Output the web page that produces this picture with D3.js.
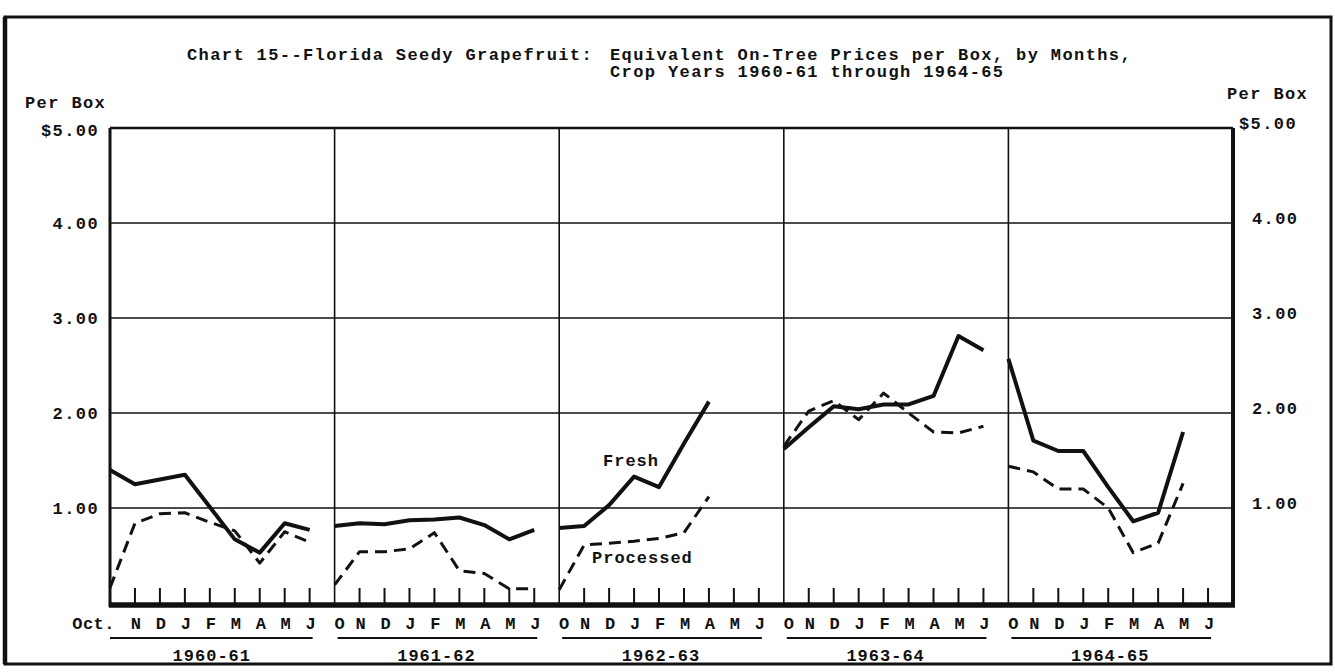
<!DOCTYPE html>
<html>
<head>
<meta charset="utf-8">
<script src="https://cdn.jsdelivr.net/npm/d3@7"></script>
<style>
  html, body { margin: 0; padding: 0; background: #fff; }
  svg { display: block; }
  text { font-family: "Liberation Mono", "DejaVu Sans Mono", monospace; font-weight: bold; fill: #111; }
</style>
</head>
<body>
<svg id="chart" width="1335" height="672"></svg>
<script>
// ---- Data ----
const cropYears = ["1960-61", "1961-62", "1962-63", "1963-64", "1964-65"];
const monthLabels = ["O", "N", "D", "J", "F", "M", "A", "M", "J"];
const yTicks = [1, 2, 3, 4, 5];
const yTickLabelsLeft = ["1.00", "2.00", "3.00", "4.00", "$5.00"];
const yTickLabelsRight = ["1.00", "2.00", "3.00", "4.00", "$5.00"];

// Fresh, $ per box, Oct..June (null = not reported)
const fresh1960 = [1.40, 1.25, 1.30, 1.35, 1.01, 0.67, 0.53, 0.84, 0.77];
const fresh1961 = [0.81, 0.84, 0.83, 0.87, 0.88, 0.90, 0.82, 0.67, 0.77];
const fresh1962 = [0.79, 0.81, 1.03, 1.33, 1.22, 1.68, 2.12, null, null];
const fresh1963 = [1.62, 1.85, 2.07, 2.04, 2.09, 2.09, 2.18, 2.81, 2.66];
const fresh1964 = [2.57, 1.71, 1.60, 1.60, 1.22, 0.86, 0.95, 1.80, null];

// Processed, $ per box, Oct..June
const processed1960 = [0.16, 0.84, 0.94, 0.95, 0.85, 0.76, 0.42, 0.75, 0.64];
const processed1961 = [0.19, 0.54, 0.54, 0.57, 0.74, 0.34, 0.31, 0.15, 0.15];
const processed1962 = [0.14, 0.61, 0.63, 0.65, 0.68, 0.74, 1.12, null, null];
const processed1963 = [1.65, 2.02, 2.13, 1.93, 2.21, 2.00, 1.80, 1.79, 1.86];
const processed1964 = [1.44, 1.38, 1.20, 1.20, 1.00, 0.53, 0.63, 1.26, null];

const freshSeries = [fresh1960, fresh1961, fresh1962, fresh1963, fresh1964];
const processedSeries = [processed1960, processed1961, processed1962, processed1963, processed1964];

// ---- Layout ----
const svg = d3.select("#chart");
const nMonths = monthLabels.length;
const x = d3.scaleLinear().domain([0, cropYears.length * nMonths]).range([110, 1233]);
const y = d3.scaleLinear().domain([0, 5]).range([603, 128]);
const FS = 17, LS = 1.4;

// outer frame
svg.append("rect").attr("x", 5).attr("y", 17).attr("width", 1326).attr("height", 647)
  .attr("fill", "none").attr("stroke", "#111").attr("stroke-width", 3);
svg.append("line").attr("x1", 5).attr("x2", 5).attr("y1", 17).attr("y2", 664)
  .attr("stroke", "#111").attr("stroke-width", 4.5);

// title
const tstyle = s => s.attr("font-size", FS).attr("letter-spacing", LS);
tstyle(svg.append("text").attr("x", 187).attr("y", 60).text("Chart 15--Florida Seedy Grapefruit:"));
tstyle(svg.append("text").attr("x", 610).attr("y", 60).text("Equivalent On-Tree Prices per Box, by Months,"));
tstyle(svg.append("text").attr("x", 610).attr("y", 77).text("Crop Years 1960-61 through 1964-65"));

// axis titles
tstyle(svg.append("text").attr("x", 25).attr("y", 108).text("Per Box"));
tstyle(svg.append("text").attr("x", 1227).attr("y", 99).text("Per Box"));

// horizontal gridlines
svg.append("g").selectAll("line").data(yTicks).join("line")
  .attr("x1", x(0)).attr("x2", x(cropYears.length * nMonths))
  .attr("y1", d => y(d)).attr("y2", d => y(d))
  .attr("stroke", "#111").attr("stroke-width", d => d === 5 ? 2.5 : 1.6);

// left tick labels
svg.append("g").selectAll("text").data(yTicks).join("text")
  .attr("x", 99).attr("y", d => y(d) + 6 + (d === 5 ? 2 : 0))
  .attr("text-anchor", "end").attr("font-size", FS).attr("letter-spacing", LS)
  .text((d, i) => yTickLabelsLeft[i]);

// right tick labels
svg.append("g").selectAll("text").data(yTicks).join("text")
  .attr("x", d => d === 5 ? 1239 : 1252).attr("y", d => y(d) + 1)
  .attr("font-size", FS).attr("letter-spacing", LS)
  .text((d, i) => yTickLabelsRight[i]);

// vertical panel dividers
const dividers = d3.range(1, cropYears.length);
svg.append("g").selectAll("line").data(dividers).join("line")
  .attr("x1", d => x(d * nMonths)).attr("x2", d => x(d * nMonths))
  .attr("y1", y(5)).attr("y2", y(0))
  .attr("stroke", "#111").attr("stroke-width", 1.6);

// left & right axis lines
svg.append("line").attr("x1", x(0)).attr("x2", x(0)).attr("y1", y(5)).attr("y2", y(0) + 4)
  .attr("stroke", "#111").attr("stroke-width", 3);
svg.append("line").attr("x1", x(45)).attr("x2", x(45)).attr("y1", y(5)).attr("y2", y(0) + 4)
  .attr("stroke", "#111").attr("stroke-width", 4);

// month ticks
const tickIdx = [];
cropYears.forEach((c, p) => { for (let m = 1; m < nMonths; m++) tickIdx.push(p * nMonths + m); });
svg.append("g").selectAll("line").data(tickIdx).join("line")
  .attr("x1", d => x(d)).attr("x2", d => x(d))
  .attr("y1", y(0) - 15).attr("y2", y(0))
  .attr("stroke", "#111").attr("stroke-width", 2);

// bottom axis (thick)
svg.append("line").attr("x1", x(0) - 1).attr("x2", x(45) + 2).attr("y1", y(0) + 2).attr("y2", y(0) + 2)
  .attr("stroke", "#111").attr("stroke-width", 5.5);

// month labels
cropYears.forEach((c, p) => {
  monthLabels.forEach((m, i) => {
    const idx = p * nMonths + i;
    if (p === 0 && i === 0) {
      svg.append("text").attr("x", x(idx) + 5).attr("y", 629).attr("text-anchor", "end")
        .attr("font-size", FS).attr("letter-spacing", 0.5).text("Oct.");
    } else {
      svg.append("text").attr("x", x(idx) + (i === 0 ? 5 : 1)).attr("y", 629).attr("text-anchor", "middle")
        .attr("font-size", FS).text(m);
    }
  });
  // underline and year label
  svg.append("line").attr("x1", x(p * nMonths) + (p === 0 ? 0 : 3)).attr("x2", x(p * nMonths + 8) + 3)
    .attr("y1", 638).attr("y2", 638).attr("stroke", "#111").attr("stroke-width", 2);
  svg.append("text").attr("x", (x(p * nMonths) + x(p * nMonths + 8)) / 2 + 2).attr("y", 661)
    .attr("text-anchor", "middle").attr("font-size", FS).attr("letter-spacing", 1).text(c);
});

// series lines
const line = d3.line()
  .defined(d => d.v !== null)
  .x(d => x(d.i)).y(d => y(d.v));

const toPts = (arr, p) => arr.map((v, i) => ({ i: p * nMonths + i, v }));

processedSeries.forEach((arr, p) => {
  svg.append("path").datum(toPts(arr, p)).attr("d", line)
    .attr("fill", "none").attr("stroke", "#111").attr("stroke-width", 3)
    .attr("stroke-dasharray", "12,7").attr("stroke-linejoin", "round");
});
freshSeries.forEach((arr, p) => {
  svg.append("path").datum(toPts(arr, p)).attr("d", line)
    .attr("fill", "none").attr("stroke", "#111").attr("stroke-width", 4)
    .attr("stroke-linejoin", "round");
});

// in-chart labels
svg.append("text").attr("x", 603).attr("y", 466).attr("font-size", FS).attr("letter-spacing", 1).text("Fresh");
svg.append("text").attr("x", 592).attr("y", 563).attr("font-size", FS).attr("letter-spacing", 1).text("Processed");
</script>
</body>
</html>
